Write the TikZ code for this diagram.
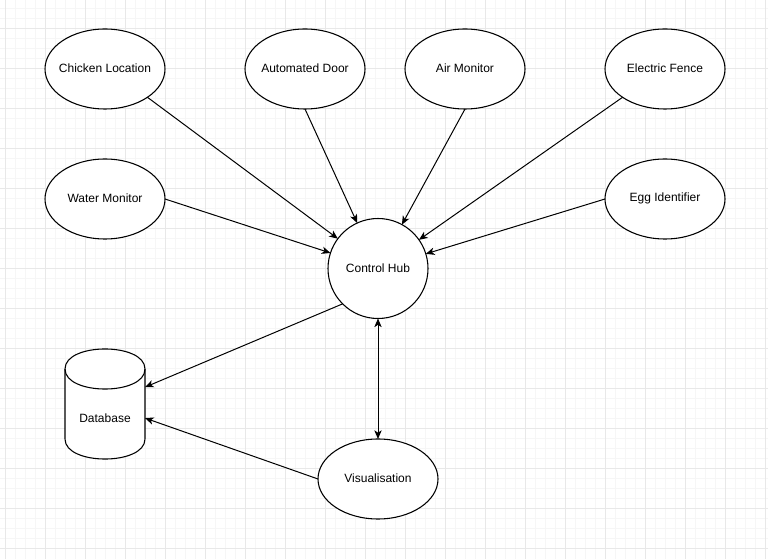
\documentclass[tikz,border=0pt]{standalone}
\usepackage{fontspec}
\setmainfont{Liberation Sans}
\usetikzlibrary{arrows.meta,shapes.geometric}
\definecolor{gridminor}{HTML}{F6F6F6}
\definecolor{gridmajor}{HTML}{E8E8E8}
\tikzset{
  minorline/.style = {gridminor, line width=0.75pt},
  majorline/.style = {gridmajor, line width=0.75pt},
  bubble/.style    = {ellipse, draw, line width=0.8pt, fill=white, inner sep=0pt,
                      outer sep=0pt, minimum width=90pt, minimum height=60pt,
                      label={[yshift=0.75pt]center:#1}},
  hubnode/.style   = {circle, draw, line width=0.8pt, fill=white, inner sep=0pt,
                      outer sep=0pt, minimum size=75pt},
  dbbox/.style     = {rectangle, inner sep=0pt, outer sep=0pt,
                      minimum width=60pt, minimum height=82.5pt},
  link/.style      = {-{Stealth[length=6.5pt, width=5.5pt, inset=1.8pt]}, line width=0.75pt},
  duplex/.style    = {{Stealth[length=6.5pt, width=5.5pt, inset=1.8pt]}-{Stealth[length=6.5pt, width=5.5pt, inset=1.8pt]},
                      line width=0.75pt},
}

\begin{document}
\begin{tikzpicture}[x=0.75pt, y=-0.75pt, font=\fontsize{9}{11}\selectfont]
  \useasboundingbox (0,0) rectangle (768,559);
  % background grid
  \fill[white] (0,0) rectangle (768,559);
  \foreach \gx in {5,15,...,765} \draw[minorline] (\gx,0) -- (\gx,559);
  \foreach \gy in {9,19,...,549} \draw[minorline] (0,\gy) -- (768,\gy);
  \foreach \gx in {5,45,...,765} \draw[majorline] (\gx,0) -- (\gx,559);
  \foreach \gy in {29,69,...,549} \draw[majorline] (0,\gy) -- (768,\gy);

  % sensors
  \node[bubble=Chicken Location] (chicken) at (105,69) {};
  \node[bubble=Automated Door]   (door)    at (305,69) {};
  \node[bubble=Air Monitor]      (air)     at (465,69) {};
  \node[bubble=Electric Fence]   (fence)   at (665,69) {};
  \node[bubble=Water Monitor]    (water)   at (105,199) {};
  \node[bubble=Egg Identifier]   (egg)     at (665,199) {};

  \node[hubnode] (hub) at (378,268.5) {Control Hub};
  \node[bubble=Visualisation] (vis) at (378,479) {};

  % database cylinder
  \node[dbbox] (db) at (105,404) {};
  \draw[line width=0.8pt, fill=white] (65,369) .. controls (65,342.3) and (145,342.3) .. (145,369)
    -- (145,439) .. controls (145,465.7) and (65,465.7) .. (65,439) -- cycle;
  \draw[line width=0.8pt] (65,369) .. controls (65,395.7) and (145,395.7) .. (145,369);
  \node (dbtext) at (105,418.5) {Database};

  % connectors
  \draw[link] (chicken.south east) -- (hub);
  \draw[link] (door.south) -- (hub);
  \draw[link] (air.south) -- (hub);
  \draw[link] (fence.south west) -- (hub);
  \draw[link] (water.east) -- (hub);
  \draw[link] (egg.west) -- (hub);
  \draw[link] (hub.south west) -- (db);
  \draw[link] (vis.west) -- (db);
  \draw[duplex] (hub) -- (vis);
\end{tikzpicture}
\end{document}
